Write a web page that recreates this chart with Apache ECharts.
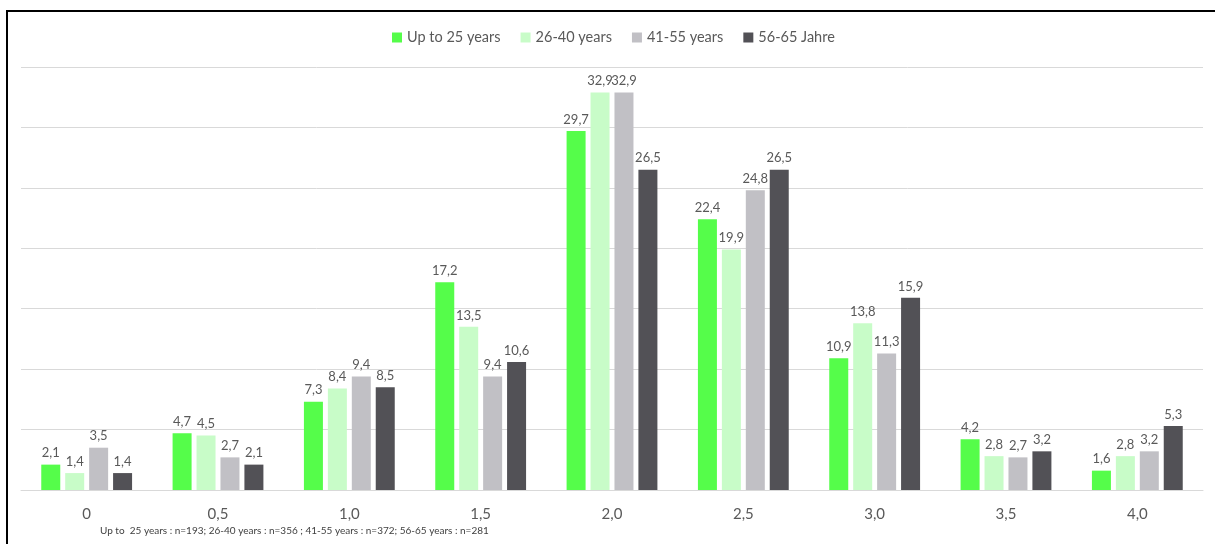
<!DOCTYPE html>
<html>
<head>
<meta charset="utf-8">
<script src="https://cdn.jsdelivr.net/npm/echarts@6/dist/echarts.min.js"></script>
<style>
  html, body { margin: 0; padding: 0; background: #fff; }
  #chart { width: 1215px; height: 544px; }
</style>
</head>
<body>
<div id="chart"></div>
<script>
// Categories along the x axis
const categories = ['0', '0,5', '1,0', '1,5', '2,0', '2,5', '3,0', '3,5', '4,0'];

// Share (%) per age group
const seriesNames = ['Up to 25 years', '26-40 years', '41-55 years', '56-65 Jahre'];
const upTo25 = [2.1, 4.7, 7.3, 17.2, 29.7, 22.4, 10.9, 4.2, 1.6];
const age26to40 = [1.4, 4.5, 8.4, 13.5, 32.9, 19.9, 13.8, 2.8, 2.8];
const age41to55 = [3.5, 2.7, 9.4, 9.4, 32.9, 24.8, 11.3, 2.7, 3.2];
const age56to65 = [1.4, 2.1, 8.5, 10.6, 26.5, 26.5, 15.9, 3.2, 5.3];

const colors = ['#55fd4a', '#c8fcc8', '#c1c0c5', '#525156'];
const footnote = 'Up to  25 years : n=193; 26-40 years : n=356 ; 41-55 years : n=372; 56-65 years : n=281';

const FONT = 'Lato, "Open Sans", sans-serif';
const seriesData = [upTo25, age26to40, age41to55, age56to65];

const chart = echarts.init(document.getElementById('chart'), null, { renderer: 'canvas' });

chart.setOption({
  animation: false,
  backgroundColor: '#ffffff',
  color: colors,
  textStyle: { fontFamily: FONT },
  legend: {
    top: 25,
    left: 387,
    itemWidth: 10,
    itemHeight: 10,
    itemGap: 20,
    icon: 'rect',
    textStyle: { color: '#595959', fontSize: 14.5, fontFamily: FONT },
    data: seriesNames
  },
  grid: { left: 21, right: 12, top: 67, bottom: 54, containLabel: false },
  xAxis: {
    type: 'category',
    data: categories,
    axisLine: { lineStyle: { color: '#d9d9d9', width: 1 } },
    axisTick: { show: false },
    axisLabel: { color: '#595959', fontSize: 15, margin: 17, fontFamily: FONT }
  },
  yAxis: {
    type: 'value',
    min: 0,
    max: 35,
    interval: 5,
    axisLine: { show: false },
    axisTick: { show: false },
    axisLabel: { show: false },
    splitLine: { lineStyle: { color: '#d9d9d9', width: 1 } }
  },
  series: seriesNames.map((name, i) => ({
    name: name,
    type: 'bar',
    data: seriesData[i],
    barWidth: 19,
    barGap: '26%',
    itemStyle: { color: colors[i] },
    label: {
      show: true,
      position: 'top',
      distance: 5,
      color: '#595959',
      fontSize: 13,
      fontFamily: FONT,
      formatter: p => String(p.value).replace('.', ',')
    }
  })),
  graphic: [
    {
      type: 'rect',
      shape: { x: 7, y: 11, width: 1300, height: 700 },
      style: { fill: 'none', stroke: '#000000', lineWidth: 2 },
      silent: true
    },
    {
      type: 'text',
      left: 100,
      top: 526,
      style: {
        text: footnote,
        fill: '#404040',
        font: '10px ' + FONT
      }
    }
  ]
});
</script>
</body>
</html>
